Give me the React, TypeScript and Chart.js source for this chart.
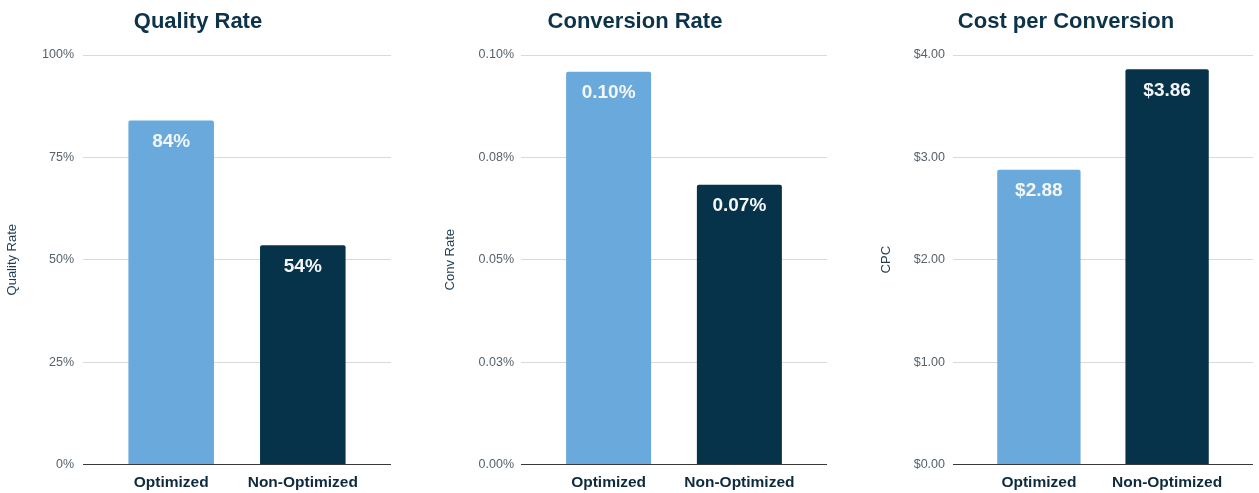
import React, { useEffect, useRef } from "react";
import { Chart, registerables } from "chart.js";

Chart.register(...registerables);

const categories = ["Optimized", "Non-Optimized"];
const qualityRate = [84, 53.5];
const convRate = [0.0959, 0.0683];
const costPerConv = [2.88, 3.86];
const barColors = ["#69a9db", "#06334a"];

const FONT = "'Liberation Sans', Arial, Helvetica, sans-serif";
const H = 503;

type Spec = {
  title: string;
  axisTitle: string;
  values: number[];
  max: number;
  step: number;
  fmt: (v: number) => string;
  left: number;
  width: number;
  axisWidth: number;
  tickPad: number;
  titlePadTop: number;
};

const pct0 = (v: number) => Math.round(v) + "%";
const pct2 = (v: number) => (Math.round(v * 100 + 1e-6) / 100).toFixed(2) + "%";
const usd = (v: number) => "$" + (Math.round(v * 100 + 1e-6) / 100).toFixed(2);

const specs: Spec[] = [
  { title: "Quality Rate", axisTitle: "Quality Rate", values: qualityRate, max: 100, step: 25, fmt: pct0, left: 5, width: 386, axisWidth: 78, tickPad: 9, titlePadTop: 0 },
  { title: "Conversion Rate", axisTitle: "Conv Rate", values: convRate, max: 0.1, step: 0.025, fmt: pct2, left: 443, width: 384, axisWidth: 78, tickPad: 7, titlePadTop: 0 },
  { title: "Cost per Conversion", axisTitle: "CPC", values: costPerConv, max: 4, step: 1, fmt: usd, left: 879, width: 374, axisWidth: 74, tickPad: 8, titlePadTop: 0 },
];

const barLabels = {
  id: "barLabels",
  afterDatasetsDraw(chart: any, _args: any, opts: any) {
    const ctx = chart.ctx;
    const meta = chart.getDatasetMeta(0);
    const ds = chart.data.datasets[0];
    ctx.save();
    ctx.font = `bold 19px ${FONT}`;
    ctx.fillStyle = "#f4f6f8";
    ctx.textAlign = "center";
    ctx.textBaseline = "middle";
    meta.data.forEach((el: any, i: number) => {
      const v = ds.data[i].y;
      ctx.fillText(opts.fmt(v), el.x, el.y + 21);
    });
    ctx.restore();
  },
};

function BarPanel({ spec }: { spec: Spec }) {
  const ref = useRef<HTMLCanvasElement>(null);
  useEffect(() => {
    if (!ref.current) return;
    const chart = new Chart(ref.current, {
      type: "bar",
      data: {
        datasets: [
          {
            data: spec.values.map((v, i) => ({ x: i + 1, y: v })),
            backgroundColor: barColors,
            borderRadius: 2,
            borderSkipped: "bottom",
            barPercentage: 0.65,
            categoryPercentage: 1,
          },
        ],
      },
      options: {
        responsive: false,
        animation: false,
        devicePixelRatio: 1,
        layout: { padding: { left: 0, right: 0, top: 0, bottom: 2 } },
        plugins: {
          legend: { display: false },
          tooltip: { enabled: false },
          title: {
            display: true,
            text: spec.title,
            color: "#0c3349",
            font: { family: FONT, size: 22, weight: "bold" },
            padding: { top: 9, bottom: 19.6 },
          },
          barLabels: { fmt: spec.fmt },
        } as any,
        scales: {
          x: {
            type: "linear",
            min: 0.33,
            max: 2.67,
            offset: false,
            grid: { display: false, drawTicks: false, offset: false },
            border: { display: false },
            afterBuildTicks: (axis: any) => {
              axis.ticks = categories.map((_, i) => ({ value: i + 1 }));
            },
            ticks: {
              autoSkip: false,
              maxRotation: 0,
              padding: 9,
              color: "#0d2b3e",
              font: { family: FONT, size: 15.5, weight: "bold" },
              callback: (v: any) => categories[Math.round(Number(v)) - 1] ?? "",
            },
          },
          y: {
            min: 0,
            max: spec.max,
            afterFit: (scale: any) => {
              scale.width = spec.axisWidth;
            },
            border: { display: false },
            grid: {
              drawTicks: false,
              color: (c: any) => (c.tick && Math.abs(c.tick.value) < 1e-9 ? "#3a3a3a" : "#d9d9d9"),
              lineWidth: 1,
            },
            ticks: {
              stepSize: spec.step,
              padding: spec.tickPad,
              color: "#56626b",
              font: { family: FONT, size: 12.5 },
              callback: (v: any) => spec.fmt(Number(v)),
            },
            title: {
              display: true,
              text: spec.axisTitle,
              color: "#1d3c52",
              font: { family: FONT, size: 13 },
              padding: { top: spec.titlePadTop, bottom: 0 },
            },
          },
        },
      } as any,
      plugins: [barLabels],
    });
    return () => chart.destroy();
  }, [spec]);
  return (
    <div style={{ position: "absolute", left: spec.left, top: 0, width: spec.width, height: H }}>
      <canvas ref={ref} width={spec.width} height={H} style={{ display: "block" }} />
    </div>
  );
}

export default function App() {
  return (
    <div style={{ position: "fixed", left: 0, top: 0, width: 1259, height: 493, background: "#ffffff", overflow: "hidden" }}>
      {specs.map((s) => (
        <BarPanel key={s.title} spec={s} />
      ))}
    </div>
  );
}
